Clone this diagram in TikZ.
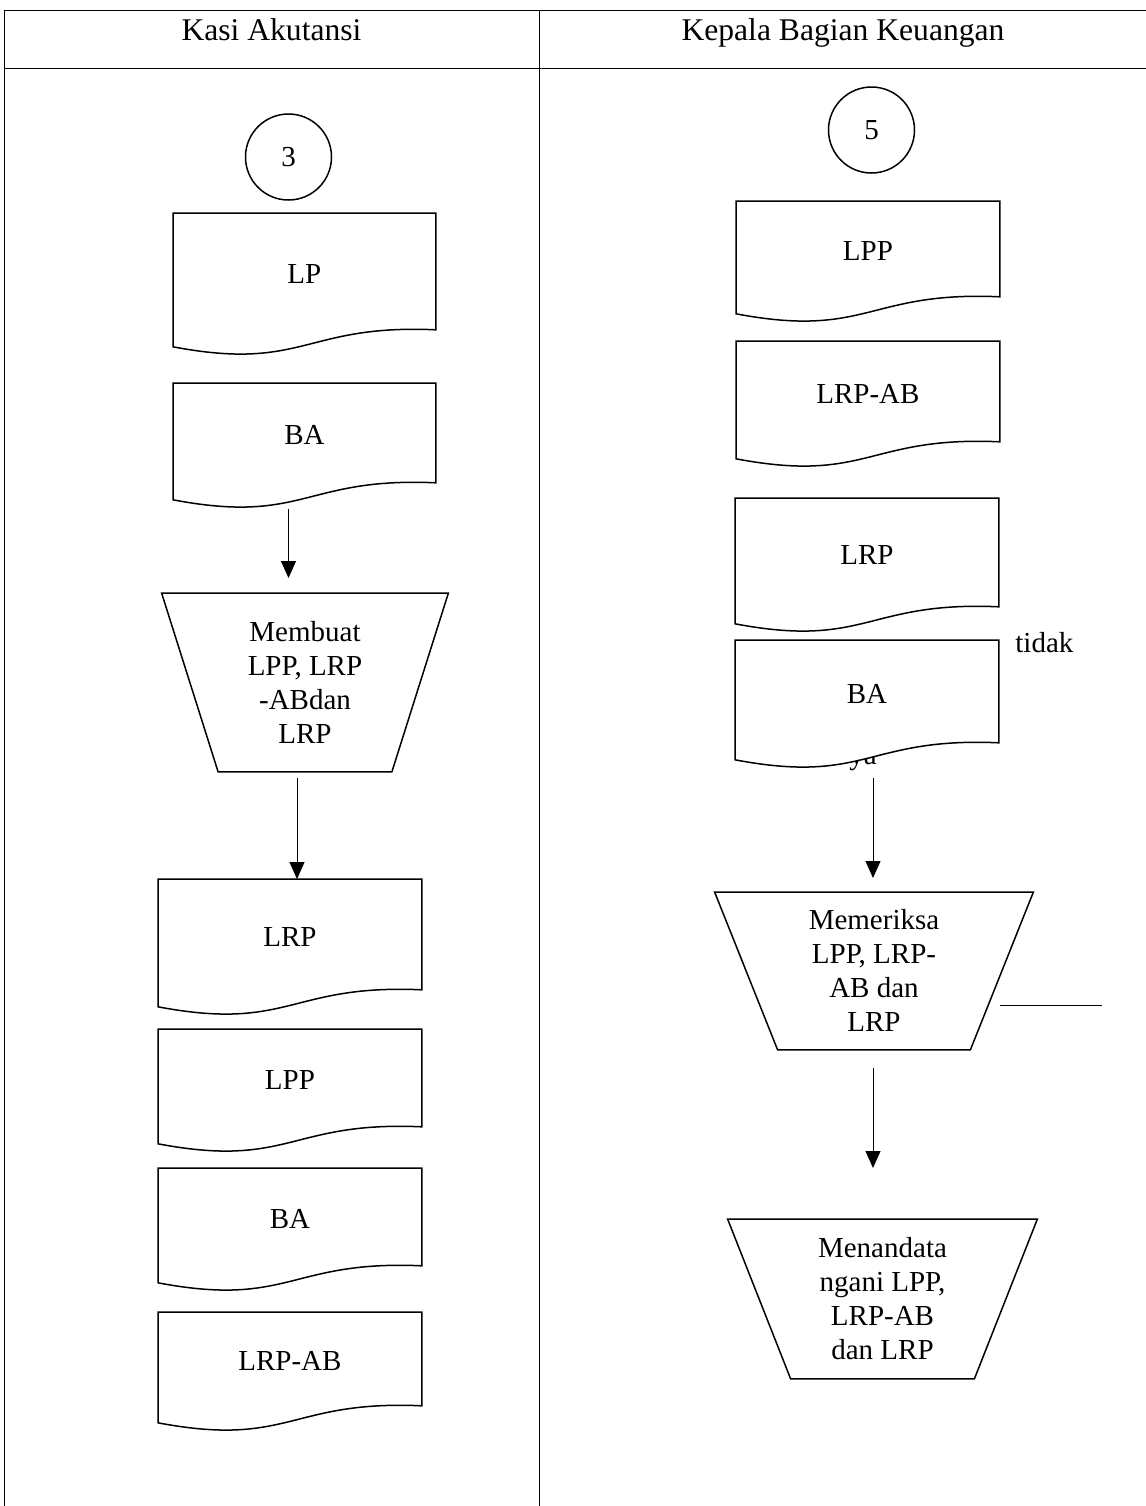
\documentclass[tikz,border=0pt]{standalone}
\usepackage{fontspec}
\setmainfont{Liberation Serif}
\usetikzlibrary{arrows.meta}

\tikzset{
  txt/.style={font=\fontsize{14.5}{17}\selectfont, inner sep=0pt},
  headtxt/.style={font=\fontsize{15.8}{18}\selectfont, inner sep=0pt, anchor=base},
  docbox/.style={rectangle, draw=none, inner sep=0pt, anchor=north west},
  docline/.style={draw=black, fill=white, line width=0.75pt, line join=miter},
  trapbox/.style={rectangle, draw=none, inner sep=0pt, anchor=north, align=center,
                  font=\fontsize{14.5}{17}\selectfont},
  trapline/.style={draw=black, line width=0.75pt, line join=miter},
  conn/.style={circle, draw=black, line width=0.75pt, minimum size=43pt, inner sep=0pt,
               font=\fontsize{14.5}{17}\selectfont},
  arr/.style={draw=black, line width=0.5pt, -{Triangle[width=7.5pt,length=8.5pt]}},
  rule/.style={draw=black, line width=0.5pt},
}

% document symbol: name, left x, top y, width, left-side height, label
\newcommand\docsym[6]{%
  \node[docbox, minimum width=#4*0.5pt, minimum height=#5*0.5pt] (#1) at (#2,#3) {};
  \path[docline] (#1.north west) -- (#1.north east) -- ([yshift=8.5pt]#1.south east)
    .. controls ([yshift=11.5pt]#1.south) and ([yshift=-12.5pt]#1.south) .. (#1.south west) -- cycle;
  \node[txt] (#1-t) at ([yshift=3pt]#1.center) {#6};
}

% manual-operation trapezoid: name, centre x, top y, top width, height, inset, text
\newcommand\trapsym[7]{%
  \node[trapbox, minimum width=#4*0.5pt, minimum height=#5*0.5pt] (#1) at (#2,#3) {#7};
  \path[trapline] (#1.north west) -- (#1.north east) -- ([xshift=-#6]#1.south east)
    -- ([xshift=#6]#1.south west) -- cycle;
}

\begin{document}
\begin{tikzpicture}[x=0.5pt, y=-0.5pt]
  \useasboundingbox (0,0) rectangle (1146,1506);

  % swimlane table
  \draw[rule] (4,10) -- (1146,10);
  \draw[rule] (4,68) -- (1146,68);
  \draw[rule] (4,10) -- (4,1506);
  \draw[rule] (539,10) -- (539,1506);
  \node[headtxt] (h1) at (271.5,40) {Kasi Akutansi};
  \node[headtxt] (h2) at (843,40) {Kepala Bagian Keuangan};

  % ---------- Kasi Akutansi ----------
  \node[conn] (c3) at (288.5,157) {3};
  \docsym{lp}{173}{213}{262}{133}{LP}
  \docsym{ba1}{173}{383}{262}{116}{BA}
  \trapsym{mb}{305}{593}{286}{178}{28.25pt}{Membuat\\LPP, LRP\\-ABdan\\LRP}
  \docsym{lrp1}{158}{879}{263}{127}{LRP}
  \docsym{lpp1}{158}{1029}{263}{114}{LPP}
  \docsym{ba2}{158}{1168}{263}{114}{BA}
  \docsym{lrpab1}{158}{1312}{263}{110}{LRP-AB}

  \draw[arr, shorten <=4.5pt, shorten >=7.5pt] (c3 |- ba1.south) -- (c3 |- mb.north);
  \draw[arr, shorten <=3pt] ([xshift=-4pt]mb.south) -- ([xshift=-4pt]mb.south |- lrp1.north);

  % ---------- Kepala Bagian Keuangan ----------
  \node[conn] (c5) at (871.5,130) {5};
  \docsym{lpp2}{736}{201}{263}{112}{LPP}
  \docsym{lrpab2}{736}{341}{263}{117}{LRP-AB}
  \docsym{lrp2}{735}{498}{263}{125}{LRP}
  \node[txt, anchor=base west] (ya) at (849,764) {ya};
  \docsym{ba3}{735}{640}{263}{119}{BA}
  \node[txt, anchor=base west] (tidak) at (1015,652) {tidak};

  \trapsym{mr}{874}{892}{318}{157}{31.5pt}{Memeriksa\\LPP, LRP-\\AB dan\\LRP}
  \trapsym{mt}{882.5}{1219}{309}{159}{31.5pt}{Menandata\\ngani LPP,\\LRP-AB\\dan LRP}

  \coordinate (nStart) at (1000,1005);
  \coordinate (nEnd) at (1102,1005);
  \draw[rule] (nStart) -- (nEnd);

  \draw[arr, shorten <=9pt, shorten >=7pt] ([xshift=-0.5pt]mr.north |- ba3.south) -- ([xshift=-0.5pt]mr.north);
  \draw[arr, shorten <=9pt, shorten >=25.5pt] ([xshift=-0.5pt]mr.south) -- ([xshift=-0.5pt]mr.south |- mt.north);
\end{tikzpicture}
\end{document}
